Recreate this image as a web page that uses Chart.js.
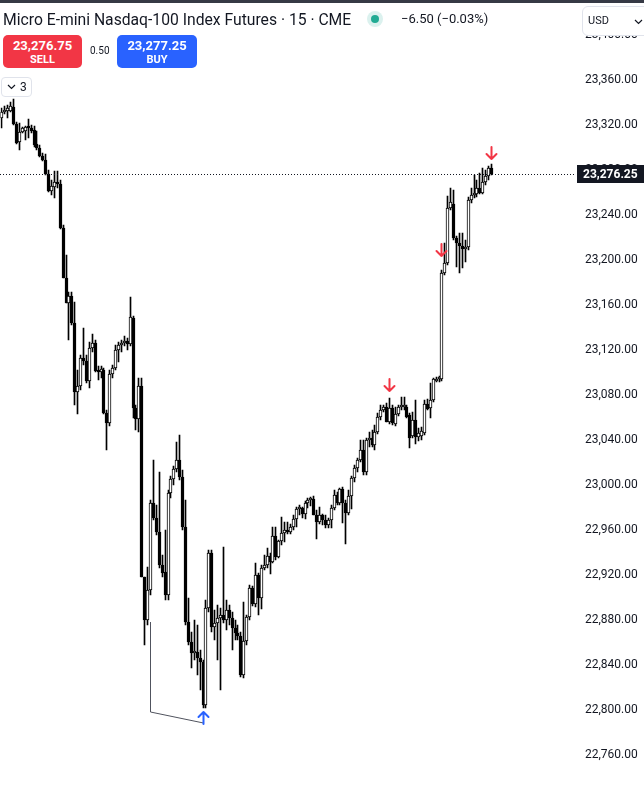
<!DOCTYPE html>
<html>
<head>
<meta charset="utf-8">
<title>Micro E-mini Nasdaq-100 Index Futures · 15 · CME</title>
<script src="https://cdn.jsdelivr.net/npm/chart.js@4.4.0/dist/chart.umd.min.js"></script>
<style>
  body { margin: 0; background: #fff; }
  #wrap { position: relative; width: 644px; height: 793px; overflow: hidden; font-family: Roboto, "Liberation Sans", sans-serif; color: #131722; }
  #chart { position: absolute; left: 0; top: 0; }
  .topbar { position: absolute; left: 0; top: 0; width: 644px; height: 3px; background: #363a45; }
  .title { position: absolute; left: 3px; top: 10px; font-size: 15.7px; white-space: nowrap; }
  .dot { position: absolute; left: 367px; top: 11px; width: 16px; height: 16px; border-radius: 50%; background: rgba(34,171,148,0.16); }
  .dot::after { content: ""; position: absolute; left: 4px; top: 4px; width: 8px; height: 8px; border-radius: 50%; background: #22ab94; }
  .change { position: absolute; left: 401px; top: 11px; font-size: 13px; white-space: nowrap; }
  .btn { position: absolute; top: 35px; height: 33px; border-radius: 5px; color: #fff; text-align: center; }
  .btn .p { font-size: 13px; font-weight: bold; margin-top: 3px; line-height: 15px; }
  .btn .s { font-size: 11px; font-weight: bold; line-height: 13px; }
  .sell { left: 3px; width: 79px; background: #f23645; }
  .buy { left: 117px; width: 80px; background: #2962ff; }
  .spread { position: absolute; left: 90px; top: 45px; font-size: 10px; }
  .fold { position: absolute; left: 1px; top: 77px; width: 29px; height: 18px; border: 1px solid #e0e3eb; border-radius: 4px; background: #fff; font-size: 12px; }
  .fold svg { position: absolute; left: 5px; top: 6px; }
  .fold span { position: absolute; left: 18px; top: 2px; }
  .usd { position: absolute; left: 582px; top: 6px; width: 70px; height: 28px; border: 1px solid #e0e3eb; border-radius: 6px; background: #fff; font-size: 11px; }
  .usd span { position: absolute; left: 5px; top: 7px; }
  .usd svg { position: absolute; left: 51px; top: 12px; }
</style>
</head>
<body>
<div id="wrap">
  <canvas id="chart" width="644" height="793"></canvas>
  <div class="topbar"></div>
  <div class="title">Micro E-mini Nasdaq-100 Index Futures · 15 · CME</div>
  <div class="dot"></div>
  <div class="change">−6.50 (−0.03%)</div>
  <div class="btn sell"><div class="p">23,276.75</div><div class="s">SELL</div></div>
  <div class="spread">0.50</div>
  <div class="btn buy"><div class="p">23,277.25</div><div class="s">BUY</div></div>
  <div class="fold"><svg width="9" height="6"><polyline points="1,1 4.5,4.5 8,1" fill="none" stroke="#131722" stroke-width="1.2"/></svg><span>3</span></div>
  <div class="usd"><span>USD</span><svg width="9" height="6"><polyline points="1,1 4.5,4.5 8,1" fill="none" stroke="#131722" stroke-width="1.2"/></svg></div>
</div>
<script>
// 15 minute candles, oldest first
const opens = [23326.25,23331.5,23332.5,23332.5,23336,23321,23305,23313.75,23314.75,23318.25,
  23317.25,23315.5,23303,23299.5,23292.5,23289,23276.25,23261.25,23265,23269.25,
  23267.5,23228.5,23184,23161.75,23168,23144,23082.75,23088,23113,23110.25,
  23092.5,23121.75,23126.25,23101.25,23100.5,23102.25,23064,23055,23098.75,23104,
  23120,23124.5,23126.25,23128,23125.25,23148.5,23068.5,23058.75,23088,22918.25,
  22880,22906.75,22984,22970.75,22958.25,22929,22922.75,22902.25,22993,23005.25,
  23014.25,23022.25,23007,22962.75,22878.25,22860.5,22850.75,22851.5,22846.25,22842.75,
  22804.5,22890.75,22939.5,22873.75,22877.25,22881.75,22884.5,22880,22889,22881.75,
  22873,22868.5,22865.75,22831,22861.25,22882.75,22908.5,22894.25,22920,22899.5,
  22926.25,22929,22937,22931.5,22954.75,22936,22950.25,22957.25,22960,22958.25,
  22962.75,22969.75,22978.75,22979.5,22974.25,22984,22986.75,22987.5,22973.25,22967,
  22973.25,22969,22964.5,22969,22979.5,22991,22984,22996.5,22984,22975,
  22990.25,23006.25,23015,23022.25,23031,23011.5,23040,23041.75,23035.5,23047,
  23060.5,23066.75,23069.25,23056,23068.5,23054.25,23063,23069.25,23069.25,23069.25,
  23062.25,23043.5,23057.75,23042.75,23043.5,23046.25,23072,23068.5,23075.5,23092.5,
  23094.25,23094.25,23188.5,23197.25,23246.25,23249.75,23219.5,23215,23212.5,23209.75,
  23211.5,23253.25,23257.75,23258.75,23264,23259.5,23269.25,23274.75,23281.75];
const highs = [23335,23337,23337.75,23340.5,23343,23322.75,23321.75,23318.25,23319,23325.25,
  23320,23319,23314.75,23302.25,23295,23294.25,23280,23271,23279,23279,
  23271,23231,23204.5,23171.5,23171.5,23162.75,23102.25,23115.5,23139.5,23115.5,
  23127,23134.25,23129,23105.75,23105.75,23104,23066.75,23102.25,23106.75,23124.5,
  23127,23129,23132.5,23130.75,23167,23150.25,23071,23095,23095,22918.25,
  22927,22986.75,23022.25,22982.25,23011.5,22937.75,22960,22995.5,23008,23017,
  23038.25,23044.5,23013.25,22986.75,22899.5,22869.25,22880,22875.5,22853.25,22844.5,
  22897.75,22942.25,22942.25,22889,22893.25,22890.75,22945,22897.75,22893.25,22887,
  22880,22875.5,22869.25,22896,22884.5,22911,22910.25,22930.75,22921.75,22929,
  22937.75,22944,22939.5,22962.75,22962.75,22951,22971.5,22967,22967,22965.25,
  22973.25,22980.5,22982.25,22980.5,22985.75,22988.5,22989.25,22990.25,22977.75,22980.5,
  22974.25,22973.25,22970.75,22982.25,22995.5,22993.75,22997.25,22998.25,22986.75,22995.5,
  23008,23017.75,23024,23040,23040,23041.75,23047,23049,23053.25,23064,
  23071,23071,23073,23077.25,23071,23069.25,23071,23078.25,23078.25,23071,
  23064,23065,23075.5,23050.75,23051.5,23075.5,23076.5,23090.75,23095,23096,
  23097,23191,23215,23257,23264,23262.25,23221.25,23224,23224,23217.75,
  23256,23264,23275.5,23271,23277.25,23281.75,23280,23283.5,23285.25];
const lows = [23317.25,23329.75,23326.25,23331.5,23320,23303,23297.75,23313,23306.75,23308.5,
  23313,23300.5,23297.75,23291.5,23288,23275.5,23260.5,23257.75,23255,23264,
  23227.5,23184,23161.75,23129,23142.25,23071,23063,23084.5,23106.75,23090.75,
  23086.25,23118.25,23100.5,23093.25,23095,23063,23031,23052.5,23095,23102.25,
  23109.25,23118.25,23123.5,23120,23123.5,23059.5,23049,23047,22918.25,22857.75,
  22875.5,22902.25,22969,22955.5,22926.25,22918.25,22897.75,22897.75,22988.5,23000,
  23011.5,23004.5,22960,22875.5,22857.75,22837.25,22844.5,22831,22817.75,22801.75,
  22801.75,22887,22869.25,22862.25,22844.5,22817.75,22877.25,22871,22875.5,22853.25,
  22862.25,22862.25,22829.25,22828.5,22857.75,22880,22892.5,22891.5,22884.5,22889.75,
  22924.5,22926.25,22921,22930.75,22933.25,22935,22946.75,22949.25,22956.5,22956.5,
  22960,22962.75,22973.25,22970.75,22969.75,22979.5,22981.25,22973.25,22952,22965.25,
  22964.5,22961.75,22961.75,22961.75,22977.75,22982.25,22982.25,22966.25,22947.5,22973.25,
  22978.75,23002.75,23011.5,23020.5,23009,23009,23033.75,23033.75,23031,23045.25,
  23057.75,23065,23056,23054.25,23053.25,23052.5,23061.25,23066.75,23066.75,23059.5,
  23033,23041.75,23036.5,23039,23040,23044.5,23066.75,23059.5,23073.75,23091.5,
  23091.5,23092.5,23186.75,23195.5,23244.5,23217.75,23193.75,23188.5,23193,23198.25,
  23209,23250.75,23255,23256,23258.75,23258.75,23266.75,23271,23275.5];
const closes = [23331.5,23332.5,23335,23337,23321,23304,23313.75,23317.25,23318.25,23317.25,
  23314.75,23302.25,23299.5,23292.5,23289,23276.25,23261.25,23265.75,23269.25,23267.5,
  23228.5,23184,23161.75,23168,23144,23082.75,23088,23113,23110.25,23092.5,
  23121.75,23126.25,23101.25,23100.5,23103,23064,23055,23098.75,23104,23120,
  23124.5,23126.25,23128,23125.25,23149.25,23068.5,23058.75,23088,22918.25,22880,
  22906.75,22984,22970.75,22958.25,22929,22921.75,22902.25,22993,23005.25,23014.25,
  23022.25,23007,22962.75,22878.25,22860.5,22850.75,22851.5,22846.25,22842.75,22804.5,
  22890.75,22939.5,22873.75,22877.25,22881.75,22884.5,22880,22889,22881.75,22873,
  22868.5,22865.75,22831,22861.25,22882.75,22908.5,22894.25,22920,22899.5,22926.25,
  22929,22937,22931.5,22954.75,22936,22950.25,22957.25,22960,22958.25,22962.75,
  22969.75,22978.75,22979.5,22974.25,22984,22986.75,22987.5,22973.25,22967,22973.25,
  22969,22964.5,22969,22979.5,22991,22984,22996.5,22984,22975,22990.25,
  23006.25,23015,23022.25,23031,23011.5,23040,23041.75,23035.5,23047,23060.5,
  23066.75,23069.25,23056,23068.5,23055,23063,23069.25,23071,23071,23060.5,
  23041.75,23057.75,23042.75,23046.25,23048,23072,23067.5,23075.5,23094.25,23094.25,
  23095,23188.5,23197.25,23246.25,23251.5,23219.5,23215,23212.5,23209.75,23211.5,
  23253.25,23257.75,23259.5,23264,23259.5,23269.25,23274.75,23281.75,23276.25];

// price axis
const priceTicks = [22760,22800,22840,22880,22920,22960,23000,23040,23080,23120,
  23160,23200,23240,23280,23320,23360,23400];
const priceMin = 22726.2;
const priceMax = 23431.1;
const lastPrice = 23276.25;

// strategy signals: bar index and arrow tip price
const sellBars = [133, 151, 168];
const sellTips = [23082.75, 23202.75, 23289];
const buyBars = [69];
const buyTips = [22799];

// drawn path under the low
const pathBars = [51, 51, 69];
const pathPrices = [22878, 22798.25, 22788.5];

const barIdx = opens.map((o, i) => i);
const bodies = barIdx.map(i => ({ x: i, y: [opens[i], closes[i]] }));
const wicks = barIdx.map(i => ({ x: i, y: [lows[i], highs[i]] }));
const bodyFill = barIdx.map(i => closes[i] >= opens[i] ? "#ffffff" : "#000000");

const fmt = v => v.toLocaleString("en-US", { minimumFractionDigits: 2, maximumFractionDigits: 2 });

function arrow(ctx, x, tipY, dir, color) {
  // dir 1 = pointing down, -1 = pointing up
  ctx.save();
  ctx.strokeStyle = color;
  ctx.lineWidth = 2;
  ctx.lineCap = "round";
  ctx.lineJoin = "round";
  ctx.beginPath();
  ctx.moveTo(x, tipY - dir * 13);
  ctx.lineTo(x, tipY - dir * 1);
  ctx.moveTo(x - 5, tipY - dir * 6);
  ctx.lineTo(x, tipY - dir * 1);
  ctx.lineTo(x + 5, tipY - dir * 6);
  ctx.stroke();
  ctx.restore();
}

// candle centres land on whole pixels, shift half a pixel so 1px wicks and 3px bodies are sharp
const crisp = {
  id: "crisp",
  beforeDatasetsDraw(chart) { chart.ctx.save(); chart.ctx.translate(0.5, 0); },
  afterDatasetsDraw(chart) { chart.ctx.restore(); }
};

const overlay = {
  id: "overlay",
  afterDatasetsDraw(chart) {
    const { ctx, chartArea, scales } = chart;
    // dotted last price line
    const py = Math.round(scales.y.getPixelForValue(lastPrice)) + 0.5;
    ctx.save();
    ctx.strokeStyle = "#131722";
    ctx.lineWidth = 1;
    ctx.setLineDash([1, 2]);
    ctx.beginPath();
    ctx.moveTo(chartArea.left, py);
    ctx.lineTo(chartArea.right, py);
    ctx.stroke();
    ctx.restore();

    sellBars.forEach((b, k) => {
      arrow(ctx, scales.x.getPixelForValue(b) + 0.5, scales.y.getPixelForValue(sellTips[k]), 1, "#f23645");
    });
    buyBars.forEach((b, k) => {
      arrow(ctx, scales.x.getPixelForValue(b) + 0.5, scales.y.getPixelForValue(buyTips[k]), -1, "#2962ff");
    });
  },
  afterDraw(chart) {
    const { ctx, chartArea, scales } = chart;
    const py = Math.round(scales.y.getPixelForValue(lastPrice));
    ctx.save();
    ctx.fillStyle = "#131722";
    ctx.fillRect(chartArea.right + 2, py - 9, 80, 18);
    ctx.fillStyle = "#ffffff";
    ctx.font = "bold 12px Roboto, 'Liberation Sans', sans-serif";
    ctx.textBaseline = "middle";
    ctx.textAlign = "left";
    ctx.fillText(fmt(lastPrice), chartArea.right + 8, py + 1);
    ctx.restore();
  }
};

new Chart(document.getElementById("chart"), {
  type: "bar",
  data: {
    datasets: [
      {
        type: "line",
        data: pathBars.map((b, k) => ({ x: b, y: pathPrices[k] })),
        borderColor: "#50535e",
        borderWidth: 1,
        pointRadius: 0,
        order: 3
      },
      {
        data: wicks,
        backgroundColor: "#000000",
        barThickness: 1,
        grouped: false,
        order: 2
      },
      {
        data: bodies,
        backgroundColor: bodyFill,
        borderColor: "#000000",
        borderWidth: 1,
        borderSkipped: false,
        barThickness: 3,
        minBarLength: 2,
        grouped: false,
        order: 1
      }
    ]
  },
  options: {
    responsive: false,
    animation: false,
    layout: { padding: 0 },
    plugins: { legend: { display: false }, tooltip: { enabled: false } },
    scales: {
      x: {
        type: "linear",
        min: -0.5,
        max: 196.83,
        offset: false,
        alignToPixels: true,
        display: false
      },
      y: {
        position: "right",
        min: priceMin,
        max: priceMax,
        alignToPixels: true,
        grid: { display: false, drawTicks: false },
        border: { display: false },
        ticks: {
          padding: 10,
          color: "#131722",
          font: { family: "Roboto, 'Liberation Sans', sans-serif", size: 12 },
          callback: v => fmt(v)
        },
        afterBuildTicks: s => { s.ticks = priceTicks.map(v => ({ value: v })); },
        afterFit: s => { s.width = 69; s.paddingTop = 0; s.paddingBottom = 0; }
      }
    }
  },
  plugins: [crisp, overlay]
});
</script>
</body>
</html>
